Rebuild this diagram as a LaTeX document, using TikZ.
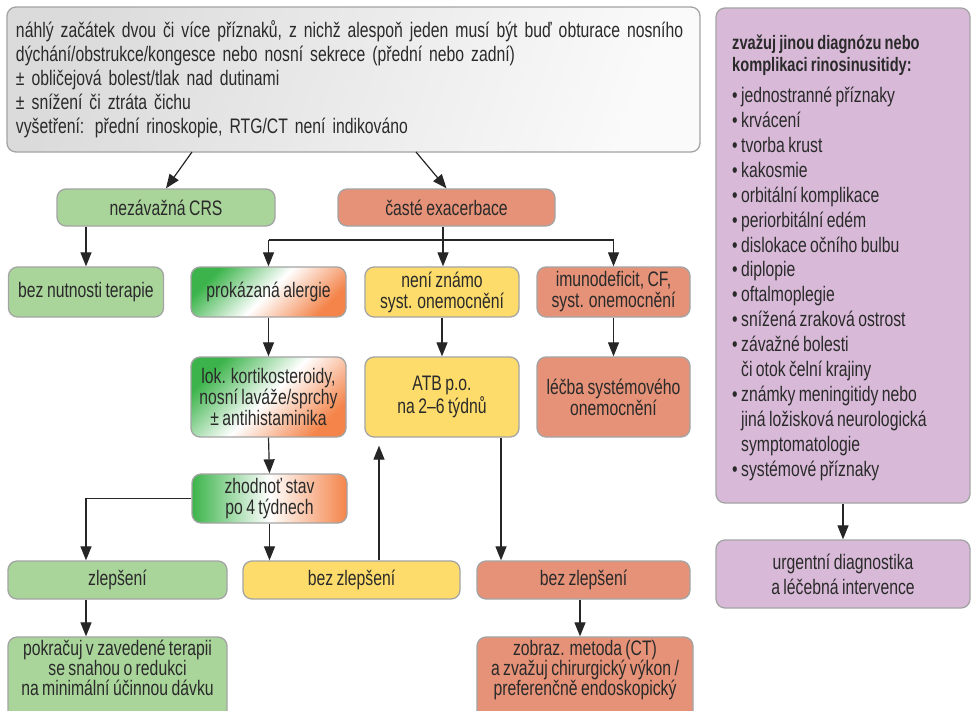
\documentclass[tikz,border=0pt]{standalone}
\usepackage{fontspec}
\setmainfont{Liberation Sans}[FakeStretch=0.75,WordSpace=0.78]
\usetikzlibrary{arrows.meta,calc}

\definecolor{boxgreen}{HTML}{A9D59B}
\definecolor{boxsalmon}{HTML}{E59278}
\definecolor{boxyellow}{HTML}{FDDC6B}
\definecolor{boxpurple}{HTML}{D8BAD8}
\definecolor{grgreen}{HTML}{3CB44B}
\definecolor{grorange}{HTML}{F4844A}
\definecolor{edgegray}{HTML}{A4A4A4}
\definecolor{linecol}{HTML}{262626}
\definecolor{txtcol}{HTML}{2A2A2A}

\newcommand\boxfont{\fontsize{21}{21}\selectfont}

\tikzset{
  box/.style={draw=edgegray, line width=1.3pt, rounded corners=9pt,
    align=center, inner sep=0pt, font=\boxfont, text=txtcol},
  greenbox/.style={box, fill=boxgreen},
  salmonbox/.style={box, fill=boxsalmon},
  yellowbox/.style={box, fill=boxyellow},
  purplebox/.style={box, fill=boxpurple},
  diagbox/.style={box, left color=grgreen, right color=grorange,
    middle color=white, shading angle=45},
  flatbox/.style={box, left color=grgreen, right color=grorange,
    middle color=white},
  arr/.style={draw=linecol, line width=1.2pt,
    -{Triangle[length=14pt,width=11pt]}},
  plain/.style={draw=linecol, line width=1.2pt},
}

\begin{document}
\begin{tikzpicture}[x=1pt,y=-1pt]
\useasboundingbox (0,0) rectangle (971,710);
\clip (0,0) rectangle (971,710);
\fill[white] (0,0) rectangle (971,710);

% header box
\node[box, left color=black!14, right color=black!2, shading angle=70,
  minimum width=693pt, minimum height=145pt, text width=675pt, align=left,
  font=\fontsize{21}{24}\selectfont] (top) at (353.5,79.5)
  {náhlý začátek dvou či více příznaků, z nichž alespoň jeden musí být buď obturace nosního\\
   dýchání/obstrukce/kongesce nebo nosní sekrece (přední nebo zadní)\\
   ± obličejová bolest/tlak nad dutinami\\
   ± snížení či ztráta čichu\\
   vyšetření: přední rinoskopie, RTG/CT není indikováno};

% first level
\node[greenbox, minimum width=218pt, minimum height=37pt] (nezav) at (166,207.5) {nezávažná CRS};
\node[salmonbox, minimum width=217pt, minimum height=37pt] (caste) at (446.5,207.5) {časté exacerbace};

% second level
\node[greenbox, minimum width=155pt, minimum height=50pt] (bez) at (86,292) {bez nutnosti terapie};
\node[diagbox, minimum width=155pt, minimum height=50pt] (alerg) at (268.5,292) {prokázaná alergie};
\node[yellowbox, minimum width=154pt, minimum height=50pt] (nezn) at (442,292) {není známo\\syst. onemocnění};
\node[salmonbox, minimum width=153pt, minimum height=50pt] (imuno) at (613.5,292) {imunodeficit, CF,\\syst. onemocnění};

% treatment level
\node[diagbox, minimum width=155pt, minimum height=80pt] (lok) at (268.5,397)
  {lok. kortikosteroidy,\\nosní laváže/sprchy\\± antihistaminika};
\node[yellowbox, minimum width=154pt, minimum height=80pt] (atb) at (442,397) {ATB p.o.\\na 2–6 týdnů};
\node[salmonbox, minimum width=153pt, minimum height=80pt] (lecba) at (613.5,397) {léčba systémového\\onemocnění};

\node[flatbox, minimum width=155pt, minimum height=49pt] (zhod) at (269.5,498.5) {zhodnoť stav\\po 4 týdnech};

% outcome level
\node[greenbox, minimum width=219pt, minimum height=38pt] (zlep) at (117.5,580) {zlepšení};
\node[yellowbox, minimum width=217pt, minimum height=38pt] (bzy) at (351.5,580) {bez zlepšení};
\node[salmonbox, minimum width=213pt, minimum height=38pt] (bzs) at (583.5,580) {bez zlepšení};

% last row runs past the lower edge; its text sits a little higher
\node[greenbox, minimum width=219pt, minimum height=84pt, font=\fontsize{21}{20}\selectfont] (pokr) at (117.5,679)
  {pokračuj v zavedené terapii\\se snahou o redukci\\na minimální účinnou dávku\\[3pt]};
\node[salmonbox, minimum width=216pt, minimum height=84pt, font=\fontsize{21}{20}\selectfont] (zobr) at (585,679)
  {zobraz. metoda (CT)\\a zvažuj chirurgický výkon\,/\\preferenčně endoskopický\\[3pt]};

% side panel
\node[purplebox, minimum width=254pt, minimum height=495pt] (purp) at (843,255.5) {};
\node[anchor=north west, inner sep=0pt, align=left, text=txtcol,
  font=\bfseries\fontsize{19.5}{21.5}\selectfont] (ptitle) at (732,35)
  {zvažuj jinou diagnózu nebo\\komplikaci rinosinusitidy:};
\node[anchor=north west, inner sep=0pt, align=left, text=txtcol,
  font=\fontsize{21}{24.9}\selectfont] (plist) at (732,87)
  {\textbullet\ jednostranné příznaky\\
   \textbullet\ krvácení\\
   \textbullet\ tvorba krust\\
   \textbullet\ kakosmie\\
   \textbullet\ orbitální komplikace\\
   \textbullet\ periorbitální edém\\
   \textbullet\ dislokace očního bulbu\\
   \textbullet\ diplopie\\
   \textbullet\ oftalmoplegie\\
   \textbullet\ snížená zraková ostrost\\
   \textbullet\ závažné bolesti\\
   \phantom{\textbullet\ }či otok čelní krajiny\\
   \textbullet\ známky meningitidy nebo\\
   \phantom{\textbullet\ }jiná ložisková neurologická\\
   \phantom{\textbullet\ }symptomatologie\\
   \textbullet\ systémové příznaky};
\node[purplebox, minimum width=254pt, minimum height=68pt, font=\fontsize{21}{25}\selectfont] (urg) at (843,574)
  {urgentní diagnostika\\a léčebná intervence};

% connectors from the header
\coordinate (tl) at (192,152);
\coordinate (tr) at (416,152);
\draw[arr] (tl) -- (nezav.north);
\draw[arr] (tr) -- (caste.north);

% branch below "časté exacerbace"
\coordinate (br) at (443,240);
\draw[plain] (caste.south -| br) -- (br);
\draw[plain] (br -| alerg.north) -- (br -| imuno.north);
\draw[arr] (br -| alerg.north) -- (alerg.north);
\draw[arr] (br) -- (br |- nezn.north);
\draw[arr] (br -| imuno.north) -- (imuno.north);

\draw[arr] (nezav.south -| bez.north) -- (bez.north);
\draw[arr] (alerg.south) -- (lok.north);
\draw[arr] (nezn.south) -- (atb.north);
\draw[arr] (imuno.south) -- (lecba.north);
\draw[arr] (lok.south) -- (zhod.north);

% evaluation outcomes
\draw[arr] (zhod.west) -| (bez.south |- zlep.north);
\draw[arr] (zhod.south) -- (zhod.south |- bzy.north);
\coordinate (upx) at (379,0);
\draw[arr] (bzy.north -| upx) -- ($(atb.south -| upx)+(0,8)$);
\coordinate (dnx) at (501,0);
\draw[arr] (atb.south -| dnx) -- (bzs.north -| dnx);
\draw[arr] (bez.south |- zlep.south) -- (bez.south |- pokr.north);
\coordinate (zbx) at (580,0);
\draw[arr] (bzs.south -| zbx) -- (zobr.north -| zbx);
\draw[arr] (purp.south) -- (urg.north);
\end{tikzpicture}
\end{document}
